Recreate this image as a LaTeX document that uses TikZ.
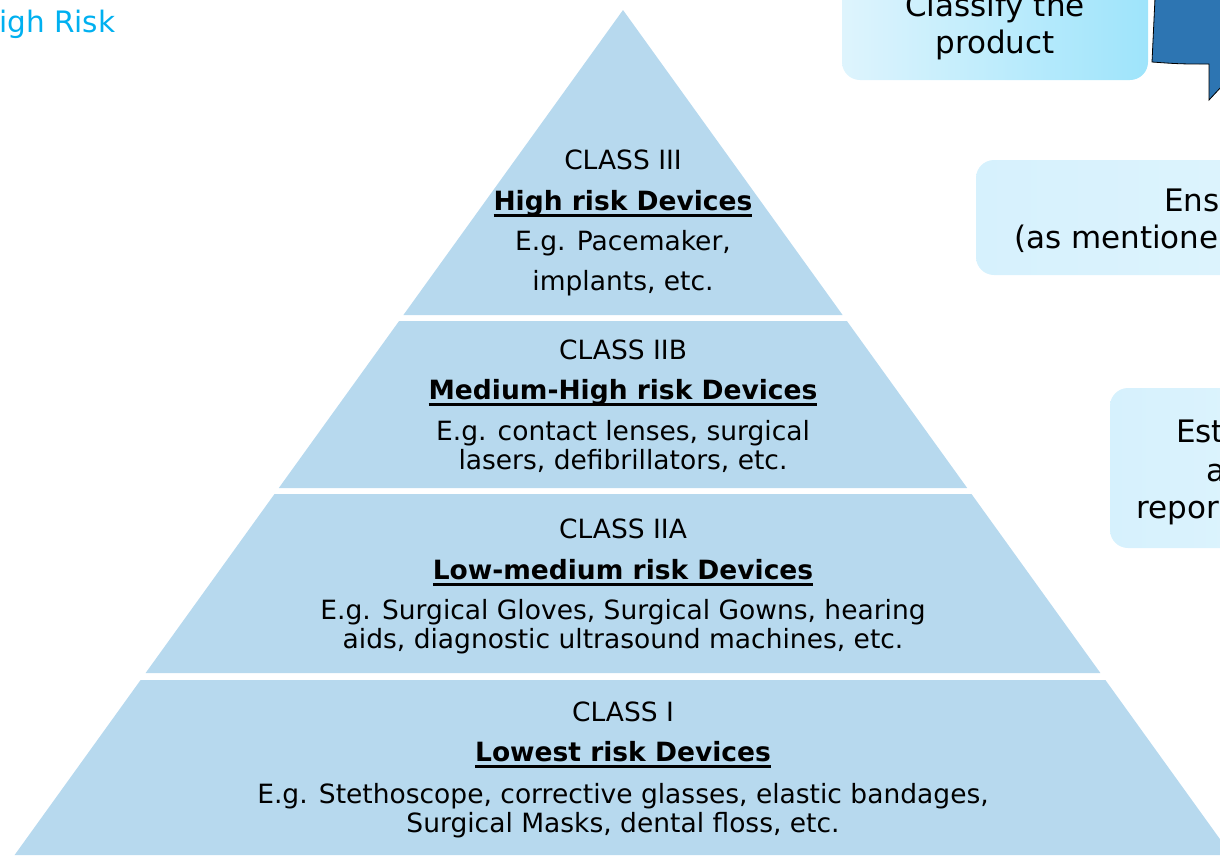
\documentclass[tikz,border=0pt]{standalone}
\usepackage{fontspec}
\setmainfont{DejaVu Sans}
\definecolor{pyr}{RGB}{183,217,238}
\definecolor{hr}{RGB}{0,176,240}
\definecolor{dkb}{RGB}{45,117,178}
\definecolor{bxl}{RGB}{222,244,253}
\definecolor{bxr}{RGB}{158,228,251}
\definecolor{bxm}{RGB}{214,241,253}
\newcommand{\ulbold}[1]{\setbox0\hbox{#1}\rlap{\rule[-6.5pt]{\wd0}{2.4pt}}\box0}
\begin{document}
\begin{tikzpicture}[x=1pt,y=-1pt,
  layer/.style={fill=pyr,draw=none},
  txt/.style={font=\fontsize{26.5}{29}\selectfont,align=center,inner sep=0pt,anchor=base},
  ttl/.style={font=\fontsize{26.5}{29}\selectfont\bfseries,inner sep=0pt,anchor=base},
  btxt/.style={font=\fontsize{31}{37}\selectfont,inner sep=0pt,anchor=base west},
  rbox/.style={rounded corners=18pt,draw=none}]
\useasboundingbox (0,0) rectangle (1220,855);
% pyramid layers
\fill[layer] (623,10) -- (842.6,315) -- (403.4,315) -- cycle;
\fill[layer] (399.1,321) -- (846.9,321) -- (967.2,488) -- (278.8,488) -- cycle;
\fill[layer] (274.5,494) -- (971.5,494) -- (1100.4,673) -- (145.6,673) -- cycle;
\fill[layer] (140.6,680) -- (1105.4,680) -- (1231.4,855) -- (14.6,855) -- cycle;
% texts
\node[txt] (c3) at (623,169) {CLASS III};
\node[ttl] (t3) at (623,210) {\ulbold{High risk Devices}};
\node[txt] (e3a) at (623,250) {E.g. Pacemaker,};
\node[txt] (e3b) at (623,290) {implants, etc.};
\node[txt] (c2b) at (623,359) {CLASS IIB};
\node[ttl] (t2b) at (623,399) {\ulbold{Medium-High risk Devices}};
\node[txt] (e2b) at (623,469) {E.g. contact lenses, surgical\\lasers, defibrillators, etc.};
\node[txt] (c2a) at (623,538) {CLASS IIA};
\node[ttl] (t2a) at (623,579) {\ulbold{Low-medium risk Devices}};
\node[txt] (e2a) at (623,648) {E.g. Surgical Gloves, Surgical Gowns, hearing\\aids, diagnostic ultrasound machines, etc.};
\node[txt] (c1) at (623,721) {CLASS I};
\node[ttl] (t1) at (623,761) {\ulbold{Lowest risk Devices}};
\node[txt] (e1) at (623,832) {E.g. Stethoscope, corrective glasses, elastic bandages,\\Surgical Masks, dental floss, etc.};
% top-left label
\node[font=\fontsize{29.5}{34}\selectfont,text=hr,anchor=base west,inner sep=0pt] (hrisk) at (-1,32) {igh Risk};
% boxes on the right
\shade[rbox,left color=bxl,right color=bxr] (842,-40) rectangle (1148,80);
\node[btxt,anchor=base,align=center] (cls) at (995,53) {Classify the\\product};
\shade[rbox,left color=bxm,right color=bxl] (976,160) rectangle (1300,275);
\node[btxt] (ens) at (1164,211) {Ens};
\node[btxt] (asm) at (1014,248) {(as mentione};
\shade[rbox,left color=bxm,right color=bxl] (1110,388) rectangle (1300,548);
\node[btxt] (est) at (1176,442) {Est};
\node[btxt] (aa) at (1206,481) {a};
\node[btxt] (rep) at (1136,518) {repor};
% dark blue callout
\filldraw[fill=dkb,draw=black,line width=0.8pt] (1155,-2) -- (1152,62) .. controls (1180,64) .. (1209,64) -- (1209,100) -- (1222,86) -- (1222,-2) -- cycle;
\end{tikzpicture}
\end{document}
